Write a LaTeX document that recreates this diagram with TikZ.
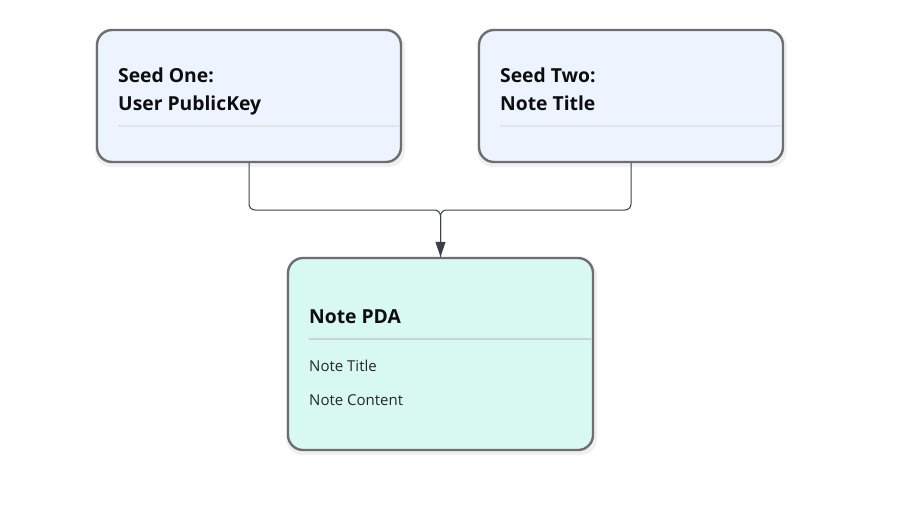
\documentclass[tikz,border=0pt]{standalone}
\usepackage{fontspec}
\setmainfont{Open Sans}
\usetikzlibrary{arrows.meta}
\definecolor{boxborder}{HTML}{6E6E70}
\definecolor{seedfill}{HTML}{EEF4FF}
\definecolor{pdafill}{HTML}{D8F8F2}
\definecolor{sepA}{HTML}{E2E4E8}
\definecolor{sepB}{HTML}{CDD1DA}
\definecolor{conn}{HTML}{3A3F4A}
\definecolor{shadowc}{HTML}{000000}
\tikzset{
  box/.style={draw=boxborder, line width=2.4pt, rounded corners=15pt, inner sep=0pt},
  boxshadow/.style={fill=shadowc, fill opacity=0.06, rounded corners=16pt, draw=none},
  title/.style={anchor=base west, inner sep=0pt, font=\fontsize{19.3}{23}\selectfont\bfseries, text=black!95},
  field/.style={anchor=base west, inner sep=0pt, font=\fontsize{15}{18}\selectfont, text=black!85},
  conline/.style={draw=conn, line width=1pt, rounded corners=6pt},
  arrowtip/.style={-{Triangle[length=15pt,width=10pt]}}
}
\begin{document}
\begin{tikzpicture}[x=1pt,y=-1pt]
\useasboundingbox[fill=white] (0,0) rectangle (904,504);
% shadows
\fill[boxshadow] (95,31) rectangle (405,167);
\fill[boxshadow] (477,31) rectangle (787,167);
\fill[boxshadow] (286,259) rectangle (597,455);
% boxes
\node[box, fill=seedfill, minimum width=304pt, minimum height=132pt] (s1) at (249,96) {};
\node[box, fill=seedfill, minimum width=304pt, minimum height=132pt] (s2) at (631,96) {};
\node[box, fill=pdafill, minimum width=305pt, minimum height=192pt] (pda) at (440.5,354) {};
% separators
\draw[sepA, line width=2pt] (118,126) -- (400,126);
\draw[sepA, line width=2pt] (500,126) -- (782,126);
\draw[sepB, line width=2.6pt] (309,339) -- (591,339);
% texts
\node[title] (t1a) at (118,82) {Seed One:};
\node[title] (t1b) at (118,110) {User PublicKey};
\node[title] (t2a) at (500,82) {Seed Two:};
\node[title] (t2b) at (500,110) {Note Title};
\node[title] (t3) at (309,323) {Note PDA};
\node[field] (f1) at (309,371) {Note Title};
\node[field] (f2) at (309,405) {Note Content};
% connectors
\coordinate (j) at (440.5,210);
\draw[conline] (s1.south) |- (j) -- (pda.north);
\draw[conline, arrowtip] (s2.south) |- (j) -- (pda.north);
\end{tikzpicture}
\end{document}
